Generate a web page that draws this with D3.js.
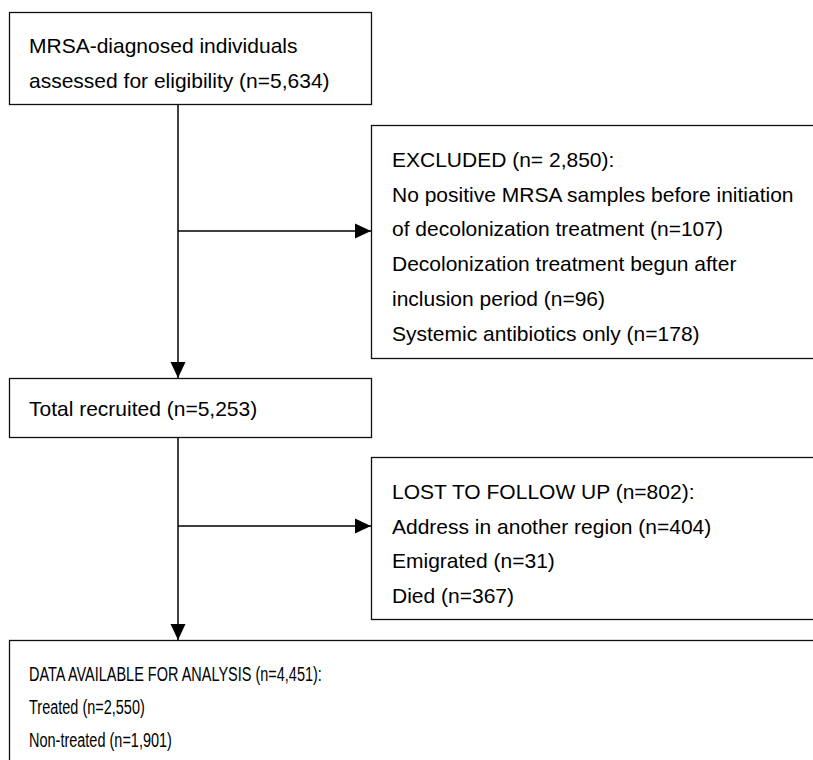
<!DOCTYPE html>
<html>
<head>
<meta charset="utf-8">
<script src="https://cdn.jsdelivr.net/npm/d3@7"></script>
<style>
  html, body { margin: 0; padding: 0; background: #fff; overflow: hidden; }
  svg { display: block; }
</style>
</head>
<body>
<svg id="chart" width="813" height="760"></svg>
<script>
// ---- Data (flow stages and their texts) ----
const mainBoxLines = [
  ["MRSA-diagnosed individuals", "assessed for eligibility (n=5,634)"],
  ["Total recruited (n=5,253)"],
  ["DATA AVAILABLE FOR ANALYSIS (n=4,451):", "Treated (n=2,550)", "Non-treated (n=1,901)"]
];
const sideBoxLines = [
  ["EXCLUDED (n= 2,850):",
   "No positive MRSA samples before initiation",
   "of decolonization treatment (n=107)",
   "Decolonization treatment begun after",
   "inclusion period (n=96)",
   "Systemic antibiotics only (n=178)"],
  ["LOST TO FOLLOW UP (n=802):",
   "Address in another region (n=404)",
   "Emigrated (n=31)",
   "Died (n=367)"]
];

// ---- Layout ----
const svg = d3.select("#chart");
svg.append("defs").append("marker")
  .attr("id", "arrow")
  .attr("viewBox", "0 0 16 16")
  .attr("refX", 16).attr("refY", 8)
  .attr("markerWidth", 16).attr("markerHeight", 16)
  .attr("markerUnits", "userSpaceOnUse")
  .attr("orient", "auto")
  .append("path").attr("d", "M0,0.5 L16,8 L0,15.5 Z").attr("fill", "#000");

const FONT = "Arial, 'Liberation Sans', sans-serif";
const mainBoxes = [
  {x: 9, y: 12, w: 362, h: 92, tx: 29, ty: 53, dy: 35, size: 21, stretch: 1},
  {x: 9, y: 378, w: 362, h: 59, tx: 29, ty: 416, dy: 35, size: 21, stretch: 1},
  {x: 9, y: 640, w: 830, h: 160, tx: 29, ty: 681, dy: 33, size: 21, stretch: 0.69}
];
const sideBoxes = [
  {x: 371, y: 125, w: 460, h: 233, tx: 392, ty: 167, dy: 34.7, size: 21, stretch: 1},
  {x: 371, y: 457, w: 460, h: 162, tx: 392, ty: 499, dy: 34.7, size: 21, stretch: 1}
];

const spineX = 178;
const branchY = [231, 526];

function drawBox(b, lines) {
  const g = svg.append("g");
  g.append("rect")
    .attr("x", b.x + 0.5).attr("y", b.y + 0.5)
    .attr("width", b.w).attr("height", b.h)
    .attr("fill", "#fff").attr("stroke", "#111").attr("stroke-width", 1.3);
  g.selectAll("text").data(lines).join("text")
    .attr("x", 0)
    .attr("y", 0)
    .attr("transform", (d, i) => `translate(${b.tx},${b.ty + i * b.dy}) scale(${b.stretch},1)`)
    .attr("font-family", FONT)
    .attr("font-size", b.size)
    .attr("fill", "#000")
    .text(d => d);
}

// connectors
const conn = svg.append("g").attr("stroke", "#000").attr("stroke-width", 1.5).attr("fill", "none");
conn.append("line").attr("x1", spineX).attr("y1", mainBoxes[0].y + mainBoxes[0].h)
  .attr("x2", spineX).attr("y2", mainBoxes[1].y).attr("marker-end", "url(#arrow)");
conn.append("line").attr("x1", spineX).attr("y1", mainBoxes[1].y + mainBoxes[1].h)
  .attr("x2", spineX).attr("y2", mainBoxes[2].y).attr("marker-end", "url(#arrow)");
branchY.forEach((y, i) => {
  conn.append("line").attr("x1", spineX).attr("y1", y)
    .attr("x2", sideBoxes[i].x).attr("y2", y).attr("marker-end", "url(#arrow)");
});

mainBoxes.forEach((b, i) => drawBox(b, mainBoxLines[i]));
sideBoxes.forEach((b, i) => drawBox(b, sideBoxLines[i]));
</script>
</body>
</html>
